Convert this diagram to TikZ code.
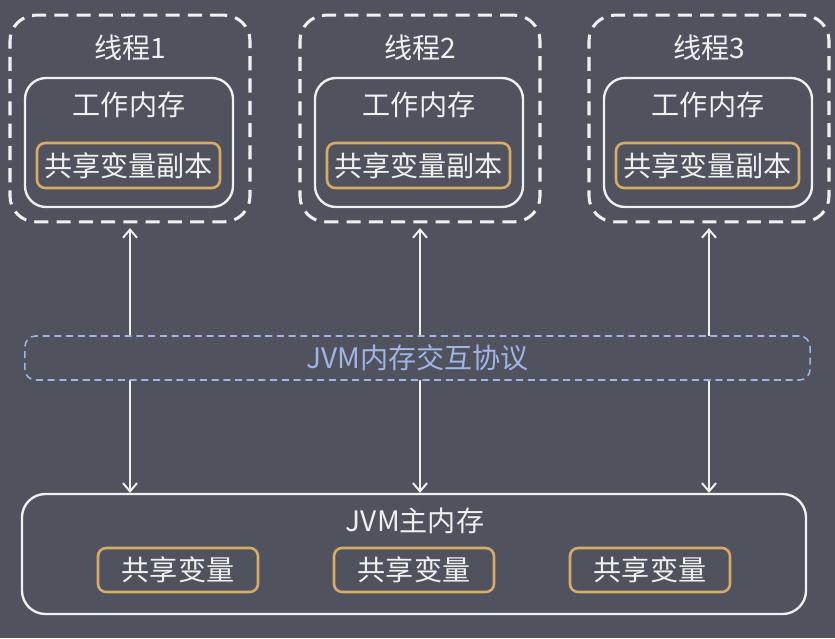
\documentclass[tikz,border=0pt]{standalone}
\usepackage{fontspec}
\setmainfont{Noto Sans CJK SC}
\usepackage{xcolor}
\usetikzlibrary{arrows.meta}

\definecolor{bgcol}{RGB}{80,82,94}
\definecolor{txtcol}{RGB}{240,240,240}
\definecolor{varcol}{RGB}{214,172,102}
\definecolor{protocol}{RGB}{160,180,230}

\tikzset{
    threadbox/.style={draw=txtcol, line width=2.6pt, dash pattern=on 12pt off 7pt,
        rounded corners=22pt, minimum width=7.2cm, minimum height=6.2cm},
    workbox/.style={draw=txtcol, line width=2pt, rounded corners=18pt,
        minimum width=6.24cm, minimum height=3.87cm},
    varbox/.style={draw=varcol, line width=2.2pt, rounded corners=7pt,
        text=txtcol, font=\fontsize{24}{28}\selectfont, inner sep=0pt},
    label/.style={text=txtcol, font=\fontsize{24}{28}\selectfont},
    syncline/.style={draw=txtcol, line width=1.7pt, {Straight Barb[length=7pt,width=12pt]}-{Straight Barb[length=7pt,width=12pt]}}
}

\begin{document}
\begin{tikzpicture}[x=0.03cm, y=-0.03cm]
    \useasboundingbox[fill=bgcol] (0,0) rectangle (835,638);

    % threads
    \foreach \i/\x in {1/130, 2/420, 3/709} {
        \node[threadbox] (thr\i) at (\x,118.5) {};
        \node[label] (name\i) at (\x,48) {线程\i};
        \node[workbox] (work\i) at (\x-1,142.5) {};
        \node[label] (wlab\i) at (\x-1,105) {工作内存};
        \node[varbox, minimum width=5.49cm, minimum height=1.35cm] (copy\i) at (\x-1.5,165.5) {共享变量副本};
    }

    % main memory
    \node[draw=txtcol, line width=2pt, rounded corners=20pt,
        minimum width=23.52cm, minimum height=3.6cm] (mainmem) at (414,554) {};
    \node[label] (mlab) at (415,521) {JVM主内存};
    \foreach \i/\x in {1/178, 2/414, 3/650}
        \node[varbox, minimum width=4.8cm, minimum height=1.32cm] (var\i) at (\x,570) {共享变量};

    % read / write arrows
    \foreach \i in {1,2,3}
        \draw[syncline] ([yshift=-4pt]thr\i.south) -- (thr\i.south |- mainmem.north);

    % protocol layer
    \node[draw=protocol, fill=bgcol, line width=1.3pt, dash pattern=on 6pt off 4pt,
        rounded corners=9pt, minimum width=23.55cm, minimum height=1.32cm,
        text=protocol, font=\fontsize{24}{28}\selectfont] (proto) at (417.5,358) {JVM内存交互协议};
\end{tikzpicture}
\end{document}
